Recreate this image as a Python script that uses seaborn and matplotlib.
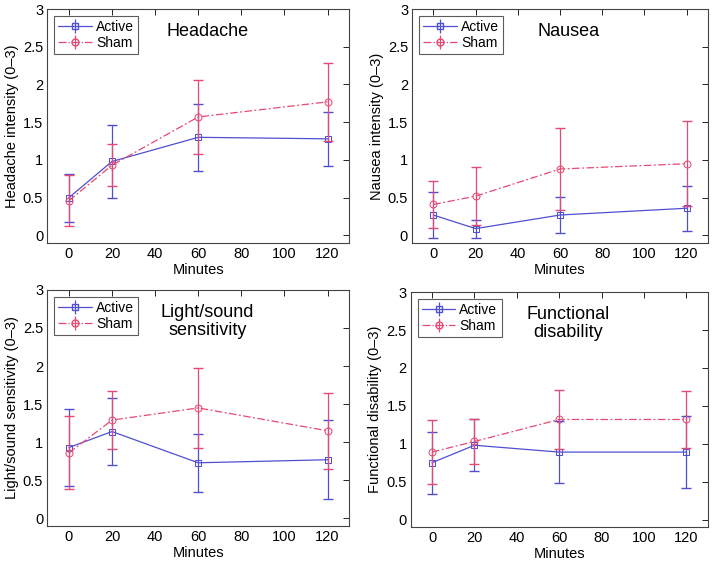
import numpy as np
import pandas as pd
import matplotlib
matplotlib.use("Agg")
import matplotlib.pyplot as plt
import seaborn as sns

sns.set_style("white")
plt.rcParams['font.family'] = ['Liberation Sans', 'DejaVu Sans']
plt.rcParams['text.color'] = 'black'
plt.rcParams['axes.labelcolor'] = 'black'
plt.rcParams['xtick.color'] = 'black'
plt.rcParams['ytick.color'] = 'black'

minutes = [0, 20, 60, 120]

titles = ["Headache", "Nausea", "Light/sound\nsensitivity", "Functional\ndisability"]
ylabels = ["Headache intensity (0\u20133)", "Nausea intensity (0\u20133)",
           "Light/sound sensitivity (0\u20133)", "Functional disability (0\u20133)"]

# means and half-width of error bars
active_mean = [
    [0.50, 0.98, 1.30, 1.28],
    [0.27, 0.09, 0.27, 0.36],
    [0.93, 1.14, 0.73, 0.77],
    [0.75, 0.98, 0.89, 0.89],
]
active_err = [
    [0.32, 0.48, 0.44, 0.36],
    [0.30, 0.12, 0.24, 0.30],
    [0.50, 0.44, 0.38, 0.52],
    [0.41, 0.34, 0.41, 0.47],
]
sham_mean = [
    [0.46, 0.93, 1.57, 1.77],
    [0.41, 0.52, 0.88, 0.95],
    [0.86, 1.29, 1.45, 1.15],
    [0.89, 1.03, 1.32, 1.32],
]
sham_err = [
    [0.34, 0.28, 0.49, 0.52],
    [0.31, 0.38, 0.54, 0.56],
    [0.48, 0.38, 0.52, 0.50],
    [0.42, 0.30, 0.39, 0.37],
]

blue = "#4f4fd2"
pink = "#e64a72"

fig = plt.figure(figsize=(7.17, 5.65), dpi=100)
positions = [
    [0.066, 0.570, 0.421, 0.414],
    [0.575, 0.570, 0.412, 0.414],
    [0.066, 0.069, 0.421, 0.418],
    [0.573, 0.067, 0.414, 0.416],
]

for i in range(4):
    ax = fig.add_axes(positions[i])
    df = pd.DataFrame({
        "Minutes": minutes * 2,
        "value": active_mean[i] + sham_mean[i],
        "group": ["Active"] * 4 + ["Sham"] * 4,
    })
    sns.lineplot(data=df, x="Minutes", y="value", hue="group", style="group",
                 palette={"Active": blue, "Sham": pink},
                 markers={"Active": "s", "Sham": "o"},
                 dashes={"Active": "", "Sham": (6, 2, 1.5, 2)},
                 markersize=5, markerfacecolor="none", linewidth=0.9,
                 legend=False, ax=ax)
    for line, c in zip(ax.lines, [blue, pink]):
        line.set_markeredgecolor(c)
    ax.errorbar(minutes, active_mean[i], yerr=active_err[i], fmt="none",
                ecolor=blue, elinewidth=0.9, capsize=3.5)
    ax.errorbar(minutes, sham_mean[i], yerr=sham_err[i], fmt="none",
                ecolor=pink, elinewidth=0.9, capsize=3.5)

    # legend handles
    h1 = ax.errorbar([], [], yerr=[], fmt="-s", color=blue, mfc="none",
                     ms=5, lw=0.9, capsize=3)
    h2 = ax.errorbar([], [], yerr=[], fmt="-.o", color=pink, mfc="none",
                     ms=5, lw=0.9, capsize=3)
    leg = ax.legend([h1, h2], ["Active", "Sham"], loc="upper left",
                    fontsize=10, frameon=True, fancybox=False,
                    borderaxespad=0.5, handlelength=2.4, handletextpad=0.3,
                    labelspacing=0.15, borderpad=0.3)
    leg.get_frame().set_edgecolor("#333333")
    leg.get_frame().set_linewidth(0.8)

    ax.text(0.53, 0.94, titles[i], transform=ax.transAxes, ha="center",
            va="top", fontsize=13, linespacing=1.05)

    ax.set_xlim(-10, 130)
    ax.set_ylim(-0.1, 3)
    ax.set_xticks([0, 20, 40, 60, 80, 100, 120])
    ax.set_yticks([0, 0.5, 1, 1.5, 2, 2.5, 3])
    ax.set_yticklabels(["0", "0.5", "1", "1.5", "2", "2.5", "3"])
    ax.tick_params(direction="in", top=True, right=True, labelsize=10.5,
                   length=4, width=0.6, pad=3)
    ax.set_xlabel("Minutes", fontsize=10.5, labelpad=1)
    ax.set_ylabel(ylabels[i], fontsize=10.5, labelpad=3)
    for s in ax.spines.values():
        s.set_color("#444444")
        s.set_linewidth(0.8)

fig.savefig("out.png", dpi=100)
